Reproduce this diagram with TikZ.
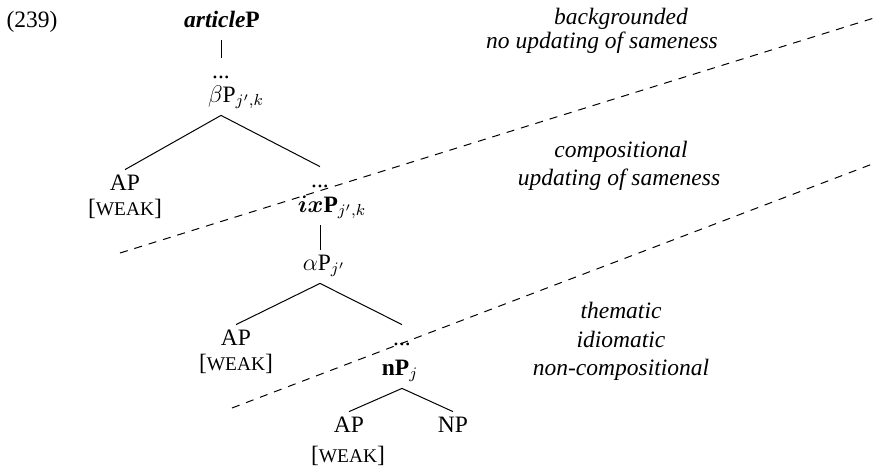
\documentclass[tikz,border=0pt]{standalone}
\usepackage{amsmath}
\usepackage{fontspec}
\setmainfont{Liberation Serif}
\begin{document}
\begin{tikzpicture}[x=0.5pt,y=-0.5pt,
  every node/.style={font=\fontsize{11.75}{14}\selectfont},
  tn/.style={anchor=base,inner sep=2pt,text height=8pt,text depth=4.5pt},
  lab/.style={anchor=base,inner sep=0pt,font=\fontsize{11.75}{14}\selectfont\itshape},
  br/.style={line width=0.5pt},
  sep/.style={line width=0.5pt,dash pattern=on 4pt off 3.5pt}]
\useasboundingbox (0,0) rectangle (876,466);
\newcommand{\weakt}{[{\fontsize{9.7}{10}\selectfont WEAK}]}
% example number
\node[anchor=base,inner sep=0pt] (num) at (32,27) {(239)};
% tree
\node[tn] (art) at (222,27) {\textbf{\textit{article}P}};
\node[tn] (d1) at (221,78) {...};
\node[tn] (beta) at (236,102) {$\beta$P$_{j',k}$};
\node[tn] (ap1) at (125,190) {AP};
\node[tn] (wk1) at (125,215) {\weakt};
\node[tn] (d2) at (320,187) {...};
\node[tn] (ix) at (332,212) {$\boldsymbol{ix}$\textbf{P}$_{j',k}$};
\node[tn] (alpha) at (324,270) {$\alpha$P$_{j'}$};
\node[tn] (ap2) at (236,345) {AP};
\node[tn] (wk2) at (236,370) {\weakt};
\node[tn] (d3) at (402,345) {...};
\node[tn] (np) at (400,375) {\textbf{nP}$_j$};
\node[tn] (ap3) at (349,432) {AP};
\node[tn] (nn) at (453,432) {NP};
\node[tn] (wk3) at (348,462) {\weakt};
% branches
\draw[br] (d1.north |- art.south) -- (d1.north);
\draw[br] (beta.south -| d1) -- (ap1.north);
\draw[br] (beta.south -| d1) -- (d2.north);
\draw[br] (ix.south -| d2) -- (alpha.north -| d2);
\draw[br] (alpha.south -| d2) -- (ap2.north);
\draw[br] (alpha.south -| d2) -- (d3.north);
\draw[br] (np.south -| d3) -- (ap3.north);
\draw[br] (np.south -| d3) -- (nn.north);
% dashed separators
\coordinate (s1a) at (120,253);
\coordinate (s1b) at (874,18);
\coordinate (s2a) at (232,408);
\coordinate (s2b) at (875,163);
\draw[sep] (s1a) -- (s1b);
\draw[sep] (s2a) -- (s2b);
% zone labels
\node[lab] (z1a) at (621,25) {backgrounded};
\node[lab] (z1b) at (602,48) {no updating of sameness};
\node[lab] (z2a) at (621,157) {compositional};
\node[lab] (z2b) at (619,185) {updating of sameness};
\node[lab] (z3a) at (621,318) {thematic};
\node[lab] (z3b) at (621,347) {idiomatic};
\node[lab] (z3c) at (621,375) {non-compositional};
\end{tikzpicture}
\end{document}
